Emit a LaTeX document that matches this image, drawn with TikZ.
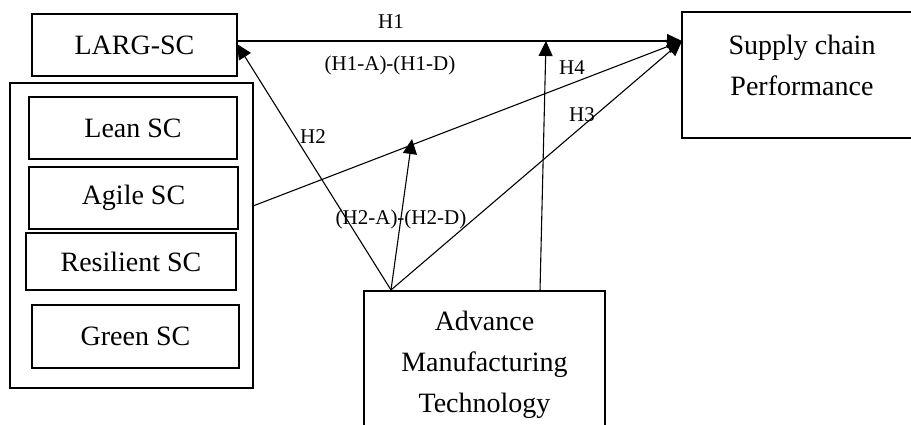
\documentclass[tikz,border=0pt]{standalone}
\usepackage{fontspec}
\setmainfont{Liberation Serif}
\usetikzlibrary{arrows.meta}
\begin{document}
\begin{tikzpicture}[x=1pt,y=-1pt,
  box/.style={draw, line width=1.1pt, inner sep=0pt, font=\fontsize{28}{41}\selectfont},
  bigtxt/.style={inner sep=0pt, align=center, font=\fontsize{28}{41}\selectfont},
  lab/.style={inner sep=0pt, font=\fontsize{21}{25}\selectfont},
  arr/.style={line width=1.1pt, -{Triangle[length=15pt,width=14pt]}}]
\useasboundingbox (0,0) rectangle (911,425);
\clip (0,0) rectangle (911,425);
% boxes
\node[box, minimum width=205pt, minimum height=62pt] (larg) at (134.5,45) {LARG-SC};
\node[draw, line width=2pt, inner sep=0pt, minimum width=243pt, minimum height=305pt] (outer) at (131.5,235.5) {};
\node[box, minimum width=208pt, minimum height=62pt] (lean) at (133,128) {Lean SC};
\node[box, minimum width=209pt, minimum height=62pt] (agile) at (133.5,198) {Agile SC};
\node[box, minimum width=210pt, minimum height=57pt] (resil) at (131,261.5) {Resilient SC};
\node[box, minimum width=207pt, minimum height=63pt] (green) at (135.5,336.5) {Green SC};
\node[box, minimum width=243pt, minimum height=126pt] (scp) at (803.5,75) {};
\node[bigtxt] (scptxt) at (802,65) {Supply chain\\Performance};
\node[box, minimum width=241pt, minimum height=160pt] (amt) at (484.5,371) {};
\node[bigtxt] (amttxt) at (484.5,365) {Advance\\Manufacturing\\Technology};
% connector points
\coordinate (apex) at (391,290);
\coordinate (h4b) at (540,291);
\coordinate (m1) at (546,41);
\coordinate (m2) at (412,139);
\coordinate (scpin) at (682,41);
\coordinate (h1s) at (237,41);
\coordinate (largin) at (237,44);
\coordinate (agout) at (253,206);
% connectors
\draw[arr] (h1s) -- (scpin);
\draw[arr] (agout) -- (scpin);
\draw[arr] (apex) -- (scpin);
\draw[arr] (apex) -- (largin);
\draw[arr] (apex) -- (m2);
\draw[arr] (h4b) -- (m1);
% labels
\node[lab] (lh1) at (391,22) {H1};
\node[lab] (lh1ad) at (390,65) {(H1-A)-(H1-D)};
\node[lab] (lh4) at (572,68) {H4};
\node[lab] (lh3) at (582,115) {H3};
\node[lab] (lh2) at (313,137) {H2};
\node[lab] (lh2ad) at (401,219) {(H2-A)-(H2-D)};
\end{tikzpicture}
\end{document}
